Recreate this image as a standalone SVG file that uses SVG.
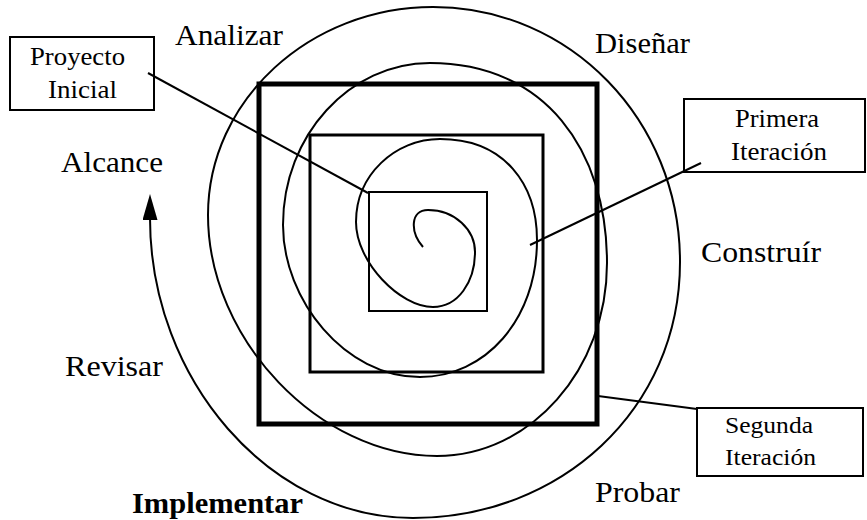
<svg xmlns="http://www.w3.org/2000/svg" width="867" height="520" viewBox="0 0 867 520">
<style>
.lbl{font-family:"Liberation Serif","Times New Roman",serif;font-size:29px;fill:#000}
.bx{font-family:"Liberation Serif","Times New Roman",serif;font-size:26px;fill:#000}
.bx2{font-family:"Liberation Serif","Times New Roman",serif;font-size:24px;fill:#000}
.box{fill:none;stroke:#000;stroke-width:2}
.ln{fill:none;stroke:#000;stroke-width:2}
.sq{fill:none;stroke:#000}
</style>
<defs>
<marker id="arr" viewBox="0 0 26 15" markerUnits="userSpaceOnUse" markerWidth="26" markerHeight="15" refX="2" refY="7.5" orient="auto">
<path d="M0,0 L26,7.5 L0,15 z" fill="#000"/>
</marker>
</defs>
<rect width="867" height="520" fill="#fff"/>
<g id="squares">
<rect class="sq" x="259" y="84" width="338" height="340" stroke-width="5"/>
<rect class="sq" x="310" y="135" width="233" height="237" stroke-width="3"/>
<rect class="sq" x="369" y="192" width="118" height="119" stroke-width="2"/>
</g>
<g id="spiral">
<path class="ln" marker-end="url(#arr)" d="M423,247 C410,232 410,210 428,210 C455,210 475,230 475,252 C475,282 458,307 433,307 C400,307 356,262 356,222 C356,175 395,139 440,139 C505,139 537,185 537,240 C537,320 485,377 420,377 C345,377 283,300 283,225 C283,135 350,63 430,63 C545,63 607,150 607,263 C607,370 530,456 437,456 C320,456 208,340 208,215 C208,100 310,7 433,7 C570,7 680,120 680,262 C680,410 560,518 413,518 C270,518 150,380 150,218"/>
</g>
<g id="connectors">
<line class="ln" x1="148" y1="73" x2="368" y2="193"/>
<line class="ln" x1="530" y1="245" x2="701" y2="163"/>
<line class="ln" x1="697" y1="409" x2="598" y2="396"/>
</g>
<g id="proyecto-inicial">
<rect class="box" x="10" y="37" width="144" height="73"/>
<text class="bx" x="30" y="65" textLength="95" lengthAdjust="spacingAndGlyphs">Proyecto</text>
<text class="bx" x="48" y="98" textLength="69" lengthAdjust="spacingAndGlyphs">Inicial</text>
</g>
<g id="primera-iteracion">
<rect class="box" x="684" y="99" width="181" height="73"/>
<text class="bx" x="735" y="127" textLength="84" lengthAdjust="spacingAndGlyphs">Primera</text>
<text class="bx" x="731" y="160" textLength="96" lengthAdjust="spacingAndGlyphs">Iteración</text>
</g>
<g id="segunda-iteracion">
<rect class="box" x="697" y="408" width="166" height="68"/>
<text class="bx2" x="725" y="433" textLength="88" lengthAdjust="spacingAndGlyphs">Segunda</text>
<text class="bx2" x="725" y="465" textLength="91" lengthAdjust="spacingAndGlyphs">Iteración</text>
</g>
<g id="analizar"><text class="lbl" x="175" y="45" textLength="108" lengthAdjust="spacingAndGlyphs">Analizar</text></g>
<g id="disenar"><text class="lbl" x="595" y="53" textLength="95" lengthAdjust="spacingAndGlyphs">Diseñar</text></g>
<g id="alcance"><text class="lbl" x="61" y="172" textLength="102" lengthAdjust="spacingAndGlyphs">Alcance</text></g>
<g id="construir"><text class="lbl" x="701" y="262" textLength="120" lengthAdjust="spacingAndGlyphs">Construír</text></g>
<g id="revisar"><text class="lbl" x="65" y="376" textLength="98" lengthAdjust="spacingAndGlyphs">Revisar</text></g>
<g id="probar"><text class="lbl" x="595" y="502" textLength="85" lengthAdjust="spacingAndGlyphs">Probar</text></g>
<g id="implementar"><text class="lbl" x="132" y="513" font-weight="bold" textLength="171" lengthAdjust="spacingAndGlyphs">Implementar</text></g>
</svg>
